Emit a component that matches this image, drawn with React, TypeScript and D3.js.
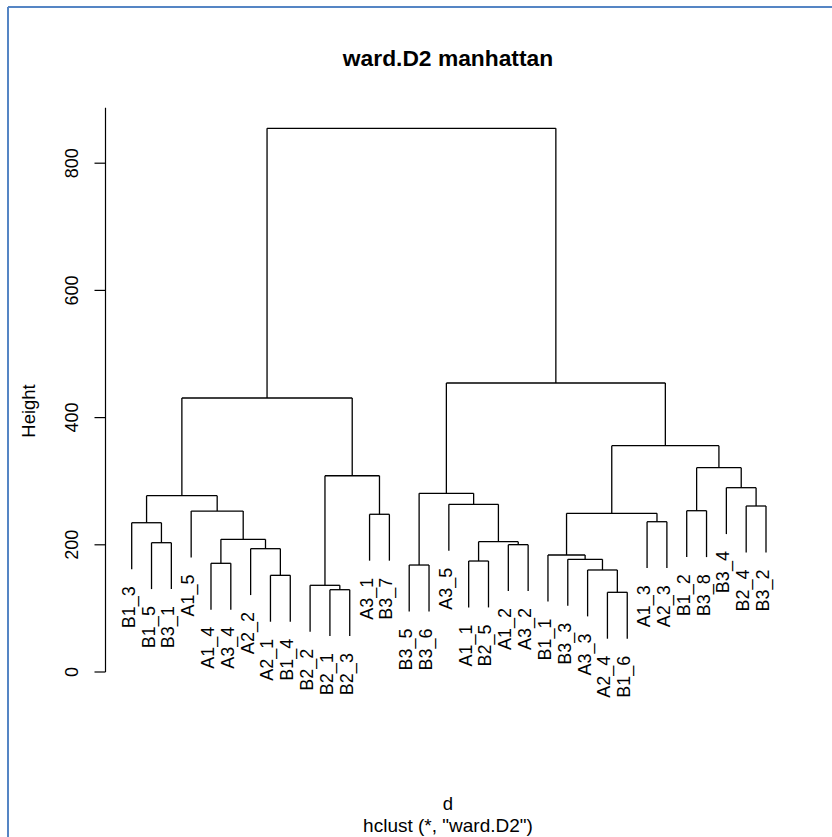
import React from "react";
import * as d3 from "d3";

// Leaf labels in dendrogram order
const leafLabels = [
  "B1_3", "B1_5", "B3_1", "A1_5", "A1_4", "A3_4", "A2_2", "A2_1", "B1_4",
  "B2_2", "B2_1", "B2_3", "A3_1", "B3_7", "B3_5", "B3_6", "A3_5", "A1_1",
  "B2_5", "A1_2", "A3_2", "B1_1", "B3_3", "A3_3", "A2_4", "B1_6", "A1_3",
  "A2_3", "B1_2", "B3_8", "B3_4", "B2_4", "B3_2",
];

// R-style merge table: negative = leaf (1-based position), positive = earlier merge (1-based)
const mergeLeft = [
  -25, -11, -10, -8, -24, -15, -5, -18, -23, -22, -7, -20, -2, 8, 7, -1,
  -27, -13, 10, -4, -29, -32, -17, 16, 6, -31, 3, 21, 19, 24, 25, 30,
];
const mergeRight = [
  -26, -12, 2, -9, 1, -16, -6, -19, 5, 9, 4, -21, -3, 12, 11, 13,
  -28, -14, 17, 15, -30, -33, 14, 20, 23, 22, 18, 26, 28, 27, 29, 31,
];
const mergeHeight = [
  125.3, 129.4, 136.3, 152.0, 160.4, 168.2, 170.9, 174.5, 177.2, 184.0,
  193.9, 200.2, 203.3, 204.9, 208.6, 234.7, 236.3, 248.0, 249.5, 253.1,
  253.6, 261.0, 263.7, 277.2, 281.0, 289.8, 308.6, 321.2, 355.8, 430.8,
  454.4, 854.9,
];

const yTicks = [0, 200, 400, 600, 800];
const titleText = "ward.D2 manhattan";
const yLabel = "Height";
const xLabel = "d";
const subText = 'hclust (*, "ward.D2")';

const W = 832;
const H = 837;
const FONT = "'Liberation Sans', Arial, Helvetica, sans-serif";

export default function App() {
  const n = leafLabels.length;
  const x = d3.scaleLinear().domain([1, n]).range([131.7, 766]);
  const y = d3.scaleLinear().domain([0, 800]).range([672, 163.2]);

  const hMin = d3.min(mergeHeight) as number;
  const hMax = d3.max(mergeHeight) as number;
  const hang = 0.1 * (hMax - hMin);
  const usrTop = hMax + 0.04 * (hMax - (hMin - hang));

  // compute node positions
  const nodeX: number[] = [];
  const childX = (c: number) => (c < 0 ? x(-c) : nodeX[c - 1]);
  mergeHeight.forEach((h, i) => {
    nodeX[i] = (childX(mergeLeft[i]) + childX(mergeRight[i])) / 2;
  });

  const segs: { x1: number; y1: number; x2: number; y2: number }[] = [];
  const leaves: { x: number; yb: number; label: string }[] = [];
  mergeHeight.forEach((h, i) => {
    const cl = mergeLeft[i];
    const cr = mergeRight[i];
    const xl = childX(cl);
    const xr = childX(cr);
    segs.push({ x1: xl, y1: y(h), x2: xr, y2: y(h) });
    [cl, cr].forEach((c) => {
      const cx = childX(c);
      const bottom = c < 0 ? h - hang : mergeHeight[c - 1];
      segs.push({ x1: cx, y1: y(h), x2: cx, y2: y(bottom) });
      if (c < 0) leaves.push({ x: cx, yb: y(bottom), label: leafLabels[-c - 1] });
    });
  });

  const stroke = "#000";
  const axisX = 105.5;

  return (
    <svg
      width={W}
      height={H}
      style={{ position: "absolute", left: 0, top: 0, background: "#fff" }}
      fontFamily={FONT}
    >
      <rect x={0} y={0} width={W} height={H} fill="#fff" />
      {/* frame */}
      <line x1={8} y1={7} x2={W} y2={7} stroke="#5585c4" strokeWidth={2} />
      <line x1={8} y1={7} x2={8} y2={H} stroke="#5585c4" strokeWidth={2} />

      {/* title */}
      <text x={448} y={66} textAnchor="middle" fontSize={22.8} fontWeight="bold">
        {titleText}
      </text>

      {/* y axis */}
      <line x1={axisX} y1={y(0)} x2={axisX} y2={y(usrTop)} stroke={stroke} strokeWidth={1.2} />
      {yTicks.map((t) => (
        <g key={t}>
          <line x1={axisX - 11} y1={y(t)} x2={axisX} y2={y(t)} stroke={stroke} strokeWidth={1.2} />
          <text
            transform={`translate(78.3,${y(t)}) rotate(-90)`}
            textAnchor="middle"
            fontSize={18}
          >
            {t}
          </text>
        </g>
      ))}
      <text transform={`translate(34.5,411) rotate(-90)`} textAnchor="middle" fontSize={18.5}>
        {yLabel}
      </text>

      {/* dendrogram */}
      {segs.map((s, i) => (
        <line key={i} x1={s.x1} y1={s.y1} x2={s.x2} y2={s.y2} stroke={stroke} strokeWidth={1.3} />
      ))}
      {leaves.map((l) => (
        <text
          key={l.label}
          transform={`translate(${l.x + 3},${l.yb + 17}) rotate(-90)`}
          textAnchor="end"
          fontSize={18}
        >
          {l.label}
        </text>
      ))}

      {/* bottom labels */}
      <text x={448} y={810} textAnchor="middle" fontSize={18.5}>
        {xLabel}
      </text>
      <text x={448} y={832} textAnchor="middle" fontSize={19}>
        {subText}
      </text>
    </svg>
  );
}
